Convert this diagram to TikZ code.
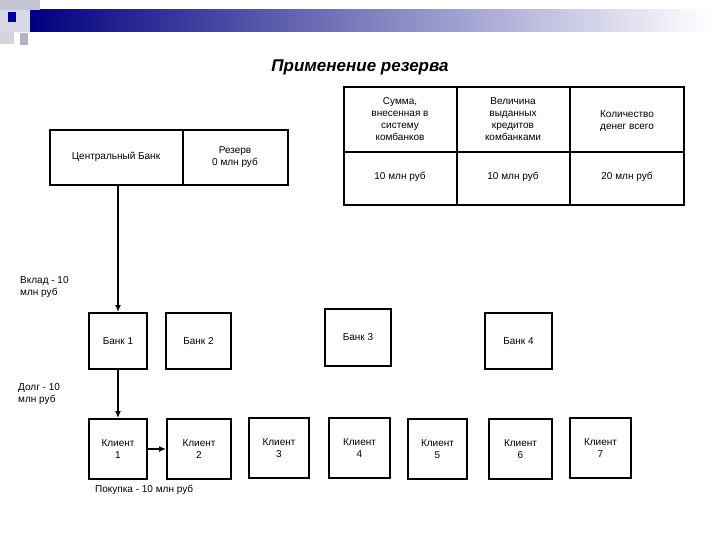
\documentclass[tikz,border=0pt]{standalone}
\usepackage{fontspec}
\setmainfont{Liberation Sans}
\usetikzlibrary{arrows.meta}
\begin{document}
\begin{tikzpicture}[x=1pt,y=-1pt,
  box/.style={draw,line width=2pt,inner sep=0pt,anchor=north west},
  txt/.style={font=\fontsize{10}{12}\selectfont,align=center},
  lbl/.style={font=\fontsize{10}{12}\selectfont,align=left,anchor=north west,inner sep=0pt},
  arr/.style={-{Latex[length=7pt,width=6pt]}}]
\useasboundingbox (0,0) rectangle (720,540);
% header decoration
\shade[left color=blue!50!black,right color=white] (30,10) rectangle (710,32);
\fill[blue!15!gray!40] (0,0) rectangle (22,10);
\fill[blue!15!gray!40] (22,0) rectangle (40,10);
\fill[blue!10!gray!30] (0,32) rectangle (14,44);
\fill[blue!20!gray!50] (20,33) rectangle (28,45);
\fill[blue!20!gray!25] (0,10) rectangle (30,32);
\fill[blue!60!black] (8,12) rectangle (16,22);
\node (title) at (360,67) {\fontsize{17}{20}\selectfont\bfseries\itshape Применение резерва};
% central bank
\draw[line width=2pt] (50,130) rectangle (288,185);
\draw[line width=2pt] (183,130) -- (183,185);
\node[txt] (cb) at (116,157) {Центральный Банк};
\node[txt] (res) at (235,157) {Резерв\\0 млн руб};
% table
\draw[line width=2pt] (344,87) rectangle (684,205);
\draw[line width=2pt] (344,152) -- (684,152);
\draw[line width=2pt] (457,87) -- (457,205);
\draw[line width=2pt] (570,87) -- (570,205);
\node[txt] (h1) at (400,119) {Сумма,\\внесенная в\\систему\\комбанков};
\node[txt] (h2) at (513,119) {Величина\\выданных\\кредитов\\комбанками};
\node[txt] (h3) at (627,121) {Количество\\денег всего};
\node[txt] (v1) at (400,177) {10 млн руб};
\node[txt] (v2) at (513,177) {10 млн руб};
\node[txt] (v3) at (627,177) {20 млн руб};
% banks
\node[box,minimum width=58pt,minimum height=56pt,txt] (b1) at (88,312) {Банк 1};
\node[box,minimum width=65pt,minimum height=56pt,txt] (b2) at (165,312) {Банк 2};
\node[box,minimum width=66pt,minimum height=57pt,txt] (b3) at (324,308) {Банк 3};
\node[box,minimum width=67pt,minimum height=56pt,txt] (b4) at (484,312) {Банк 4};
% clients
\node[box,minimum width=58pt,minimum height=60pt,txt] (c1) at (88,418) {Клиент\\1};
\node[box,minimum width=64pt,minimum height=60pt,txt] (c2) at (166,418) {Клиент\\2};
\node[box,minimum width=60pt,minimum height=60pt,txt] (c3) at (248,417) {Клиент\\3};
\node[box,minimum width=61pt,minimum height=60pt,txt] (c4) at (328,417) {Клиент\\4};
\node[box,minimum width=59pt,minimum height=60pt,txt] (c5) at (407,418) {Клиент\\5};
\node[box,minimum width=63pt,minimum height=60pt,txt] (c6) at (488,418) {Клиент\\6};
\node[box,minimum width=61pt,minimum height=60pt,txt] (c7) at (569,417) {Клиент\\7};
\coordinate (cbb) at (b1.north |- 0,185);
% arrows
\draw[arr,line width=2.4pt] (cbb) -- (b1.north);
\draw[arr,line width=2.4pt] (b1.south) -- (c1.north);
\draw[arr,line width=2.4pt] (c1.east) -- (c2.west);
% labels
\node[lbl] (l1) at (20,276) {Вклад - 10\\млн руб};
\node[lbl] (l2) at (18,383) {Долг - 10\\млн руб};
\node[lbl] (l3) at (95,485) {Покупка - 10 млн руб};
\end{tikzpicture}
\end{document}
